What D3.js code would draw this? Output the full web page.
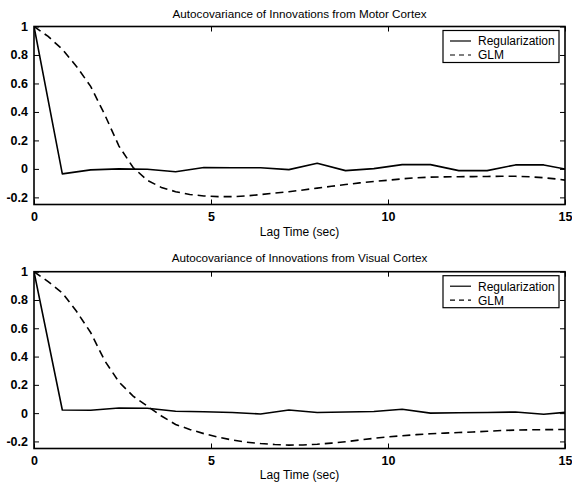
<!DOCTYPE html>
<html><head><meta charset="utf-8">
<script src="https://cdn.jsdelivr.net/npm/d3@7"></script>
<style>body{margin:0;background:#fff}svg{display:block}</style>
</head><body>
<svg id="c" width="572" height="482"></svg>
<script>
// ---------------- data ----------------
const lagsReg = [0,0.8,1.6,2.4,3.2,4.0,4.8,5.6,6.4,7.2,8.0,8.8,9.6,10.4,11.2,12.0,12.8,13.6,14.4,15.2];
const lagsGLM = [0,0.4,0.8,1.2,1.6,2.0,2.4,2.8,3.2,3.6,4.0,4.4,4.8,5.2,5.6,6.0,6.4,6.8,7.2,7.6,8.0,8.4,8.8,9.2,9.6,10.0,10.4,10.8,11.2,11.6,12.0,12.4,12.8,13.2,13.6,14.0,14.4,14.8,15.2];

const motorReg = [1,-0.035,-0.007,0.0,-0.002,-0.02,0.01,0.008,0.008,-0.005,0.04,-0.012,0.002,0.03,0.03,-0.012,-0.012,0.028,0.028,-0.01];
const motorGLM = [1,0.93,0.84,0.72,0.58,0.38,0.16,0.01,-0.08,-0.13,-0.16,-0.18,-0.19,-0.195,-0.195,-0.19,-0.18,-0.17,-0.16,-0.148,-0.135,-0.122,-0.11,-0.098,-0.088,-0.08,-0.07,-0.062,-0.058,-0.056,-0.055,-0.054,-0.053,-0.052,-0.052,-0.055,-0.062,-0.072,-0.085];

const visualReg = [1,0.022,0.02,0.036,0.035,0.013,0.01,0.005,-0.006,0.022,0.005,0.008,0.012,0.027,0.0,0.003,0.005,0.008,-0.008,0.01];
const visualGLM = [1,0.93,0.85,0.72,0.57,0.37,0.22,0.12,0.05,-0.02,-0.08,-0.115,-0.145,-0.17,-0.19,-0.205,-0.215,-0.222,-0.226,-0.225,-0.22,-0.212,-0.202,-0.19,-0.178,-0.168,-0.16,-0.152,-0.146,-0.141,-0.137,-0.133,-0.128,-0.123,-0.12,-0.118,-0.117,-0.116,-0.115];

const xTicks = [0,5,10,15];
const yTicks = [-0.2,0,0.2,0.4,0.6,0.8,1];
const titles = ["Autocovariance of Innovations from Motor Cortex","Autocovariance of Innovations from Visual Cortex"];
const seriesNames = ["Regularization","GLM"];
const xLabel = "Lag Time (sec)";

// ---------------- layout ----------------
const svg = d3.select("#c");
const FONT = "Liberation Sans, Arial, Helvetica, sans-serif";
const left = 34, right = 565;
const panels = [
  {top:26.5, bottom:204.5, title:titles[0], reg:motorReg, glm:motorGLM, titleY:18, tickPad:8, labelY:236},
  {top:271.7, bottom:448.5, title:titles[1], reg:visualReg, glm:visualGLM, titleY:262, tickPad:7.5, labelY:478.5}
];

const x = d3.scaleLinear().domain([0,15]).range([left,right]);

panels.forEach((p,i)=>{
  const y = d3.scaleLinear().domain([-0.25,1]).range([p.bottom,p.top]);
  const g = svg.append("g");

  const cid = "clip"+i;
  svg.append("clipPath").attr("id",cid).append("rect")
    .attr("x",left).attr("y",p.top).attr("width",right-left).attr("height",p.bottom-p.top);

  const ax = (sel)=>{ sel.select(".domain").remove(); sel.selectAll("line").attr("stroke","#000").attr("stroke-width",1); };
  const lab = (sel)=>{ sel.selectAll("text").attr("font-family",FONT).attr("font-size",12.5).attr("font-weight","bold").attr("fill","#000"); };

  g.append("g").attr("transform",`translate(0,${p.bottom})`)
    .call(d3.axisBottom(x).tickValues(xTicks).tickSize(-5).tickPadding(p.tickPad).tickFormat(d=>String(d)))
    .call(ax).call(lab);
  g.append("g").attr("transform",`translate(0,${p.top})`)
    .call(d3.axisTop(x).tickValues(xTicks).tickSize(-5).tickFormat(""))
    .call(ax);
  g.append("g").attr("transform",`translate(${left},0)`)
    .call(d3.axisLeft(y).tickValues(yTicks).tickSize(-5).tickPadding(6).tickFormat(d=>String(d)))
    .call(ax).call(lab);
  g.append("g").attr("transform",`translate(${right},0)`)
    .call(d3.axisRight(y).tickValues(yTicks).tickSize(-5).tickFormat(""))
    .call(ax);

  const lineReg = d3.line().x((d,k)=>x(lagsReg[k])).y(d=>y(d));
  const lineGLM = d3.line().x((d,k)=>x(lagsGLM[k])).y(d=>y(d));
  const lg = g.append("g").attr("clip-path",`url(#${cid})`);
  lg.append("path").attr("d",lineReg(p.reg)).attr("fill","none").attr("stroke","#000").attr("stroke-width",1.6).attr("stroke-linejoin","round");
  lg.append("path").attr("d",lineGLM(p.glm)).attr("fill","none").attr("stroke","#000").attr("stroke-width",1.6).attr("stroke-dasharray","8,5");

  g.append("rect").attr("x",left).attr("y",p.top).attr("width",right-left).attr("height",p.bottom-p.top)
    .attr("fill","none").attr("stroke","#000").attr("stroke-width",1.6);

  g.append("text").attr("x",(left+right)/2).attr("y",p.titleY).attr("text-anchor","middle")
    .attr("font-family",FONT).attr("font-size",11.7).text(p.title);
  g.append("text").attr("x",(left+right)/2).attr("y",p.labelY).attr("text-anchor","middle")
    .attr("font-family",FONT).attr("font-size",12).text(xLabel);

  const lx = 443, ly = p.top+4, lw = 116, lh = 32;
  const leg = g.append("g");
  leg.append("rect").attr("x",lx).attr("y",ly).attr("width",lw).attr("height",lh)
    .attr("fill","#fff").attr("stroke","#000").attr("stroke-width",1.2);
  seriesNames.forEach((name,k)=>{
    const yy = ly + 10.5 + k*14;
    leg.append("line").attr("x1",lx+7).attr("x2",lx+28).attr("y1",yy).attr("y2",yy)
      .attr("stroke","#000").attr("stroke-width",1.2).attr("stroke-dasharray",k===1?"5,4":null);
    leg.append("text").attr("x",lx+35).attr("y",yy+4.3).attr("font-family",FONT).attr("font-size",12).text(name);
  });
});
</script>
</body></html>
